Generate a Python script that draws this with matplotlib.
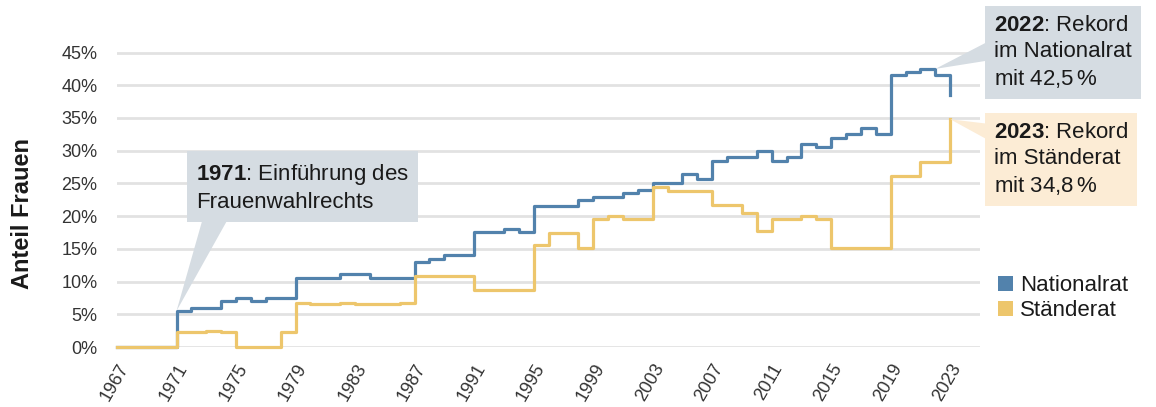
import matplotlib.pyplot as plt
from matplotlib.patches import Patch

# Frauenanteil im Parlament (Prozent), Stand je Jahr
jahre = list(range(1967, 2024))
nationalrat = [
    0, 0, 0, 0,                          # 1967-1970
    5.5, 6.0, 6.0, 7.0, 7.5, 7.0, 7.5, 7.5,  # 1971-1978
    10.5, 10.6, 10.6, 11.1, 11.1, 10.6, 10.6, 10.6,  # 1979-1986
    13.0, 13.5, 14.0, 14.1,              # 1987-1990
    17.5, 17.5, 18.0, 17.5,              # 1991-1994
    21.5, 21.5, 21.5, 22.5,              # 1995-1998
    23.0, 23.0, 23.5, 24.0,              # 1999-2002
    25.1, 25.0, 26.5, 25.6,              # 2003-2006
    28.5, 29.0, 29.0, 30.0,              # 2007-2010
    28.5, 29.0, 31.0, 30.5,              # 2011-2014
    32.0, 32.5, 33.5, 32.5,              # 2015-2018
    41.5, 42.0, 42.5, 41.5,              # 2019-2022
    38.5,                                # 2023
]
staenderat = [
    0, 0, 0, 0,
    2.3, 2.3, 2.5, 2.3, 0, 0, 0, 2.3,
    6.7, 6.5, 6.5, 6.7, 6.5, 6.5, 6.5, 6.7,
    10.9, 10.9, 10.9, 10.9,
    8.7, 8.7, 8.7, 8.7,
    15.6, 17.4, 17.4, 15.2,
    19.6, 20.0, 19.6, 19.6,
    24.5, 23.9, 23.9, 23.9,
    21.7, 21.7, 20.5, 17.8,
    19.6, 19.6, 20.0, 19.6,
    15.2, 15.2, 15.2, 15.2,
    26.1, 26.1, 28.3, 28.3,
    34.8,
]
jahr_labels = jahre[::4]
prozent_ticks = list(range(0, 50, 5))

BLAU = '#5282ac'
GELB = '#edc66c'
BOX_GRAU = '#d5dce2'
BOX_BEIGE = '#fcecd5'
TEXT = '#1a1a1a'

plt.rcParams['font.family'] = ['Liberation Sans', 'DejaVu Sans']
plt.rcParams['mathtext.fontset'] = 'custom'
plt.rcParams['mathtext.rm'] = 'Liberation Sans'
plt.rcParams['mathtext.bf'] = 'Liberation Sans:bold'

W, H = 1156, 407


def fig_pos(x, y):
    # Pixelposition (oben links) -> figure fraction
    return x / W, 1 - y / H


fig = plt.figure(figsize=(W / 100, H / 100), dpi=100)
ax = fig.add_axes([117 / W, 60 / H, 863 / W, 301 / H])

ax.step(jahre, nationalrat, where='post', color=BLAU, lw=2.3, zorder=3, clip_on=False)
ax.step(jahre, staenderat, where='post', color=GELB, lw=2.3, zorder=4, clip_on=False)

ax.set_xlim(1967, 2025)
ax.set_ylim(0, 46)
ax.set_yticks(prozent_ticks)
ax.set_yticklabels([f'{p}%' for p in prozent_ticks], fontsize=13, color='#333333')
ax.set_xticks(jahr_labels)
ax.set_xticklabels([str(j) for j in jahr_labels], rotation=60, ha='right', va='top',
                   rotation_mode='anchor', fontsize=13, color='#333333')
ax.tick_params(axis='y', length=0, pad=14)
ax.tick_params(axis='x', length=0, pad=10)
ax.yaxis.grid(True, color='#e2e2e2', lw=2)
ax.set_axisbelow(True)
for s in ax.spines.values():
    s.set_visible(False)

ax.set_ylabel('Anteil Frauen', fontsize=17, fontweight='bold', color=TEXT)
ax.yaxis.set_label_coords(-0.096, 0.445)

# Sprechblasen
ax.annotate('$\\mathbf{1971}$: Einführung des\nFrauenwahlrechts',
            xy=(jahre[4], nationalrat[4]), xycoords='data',
            xytext=fig_pos(196, 162), textcoords='figure fraction',
            ha='left', va='top', fontsize=16, color=TEXT, linespacing=1.3,
            bbox=dict(boxstyle='square,pad=0.4', fc=BOX_GRAU, ec='none'),
            arrowprops=dict(arrowstyle='wedge,tail_width=1.12,shrink_factor=0.5',
                            fc=BOX_GRAU, ec='none', relpos=(0.1, 0.0),
                            shrinkA=0, shrinkB=0, patchA=None),
            zorder=5)

i_max = nationalrat.index(max(nationalrat))
nr_max = f'{nationalrat[i_max]:.1f}'.replace('.', ',')
ax.annotate(f'$\\mathbf{{{jahre[i_max + 1]}}}$: Rekord\nim Nationalrat\nmit {nr_max}$\\,$%',
            xy=(jahre[i_max + 1], nationalrat[i_max]), xycoords='data',
            xytext=fig_pos(994, 15), textcoords='figure fraction',
            ha='left', va='top', fontsize=16, color=TEXT, linespacing=1.3,
            bbox=dict(boxstyle='square,pad=0.4', fc=BOX_GRAU, ec='none'),
            arrowprops=dict(arrowstyle='wedge,tail_width=0.9,shrink_factor=0.5',
                            fc=BOX_GRAU, ec='none', relpos=(0.0, 0.54),
                            shrinkA=0, shrinkB=0, patchA=None),
            annotation_clip=False, zorder=5)

sr_max = f'{staenderat[-1]:.1f}'.replace('.', ',')
ax.annotate(f'$\\mathbf{{{jahre[-1]}}}$: Rekord\nim Ständerat\nmit {sr_max}$\\,$%',
            xy=(jahre[-1], staenderat[-1]), xycoords='data',
            xytext=fig_pos(994, 122), textcoords='figure fraction',
            ha='left', va='top', fontsize=16, color=TEXT, linespacing=1.3,
            bbox=dict(boxstyle='square,pad=0.4', fc=BOX_BEIGE, ec='none'),
            arrowprops=dict(arrowstyle='wedge,tail_width=0.8,shrink_factor=0.5',
                            fc=BOX_BEIGE, ec='none', relpos=(0.0, 0.85),
                            shrinkA=0, shrinkB=0, patchA=None),
            annotation_clip=False, zorder=5)

handles = [Patch(facecolor=BLAU, label='Nationalrat'),
           Patch(facecolor=GELB, label='Ständerat')]
fig.legend(handles=handles, loc='upper left', bbox_to_anchor=fig_pos(998, 275),
           frameon=False, fontsize=16, handlelength=0.68, handleheight=0.68,
           handletextpad=0.32, labelspacing=0.2, borderpad=0, borderaxespad=0,
           labelcolor=TEXT)

fig.savefig('out.png', dpi=100)
